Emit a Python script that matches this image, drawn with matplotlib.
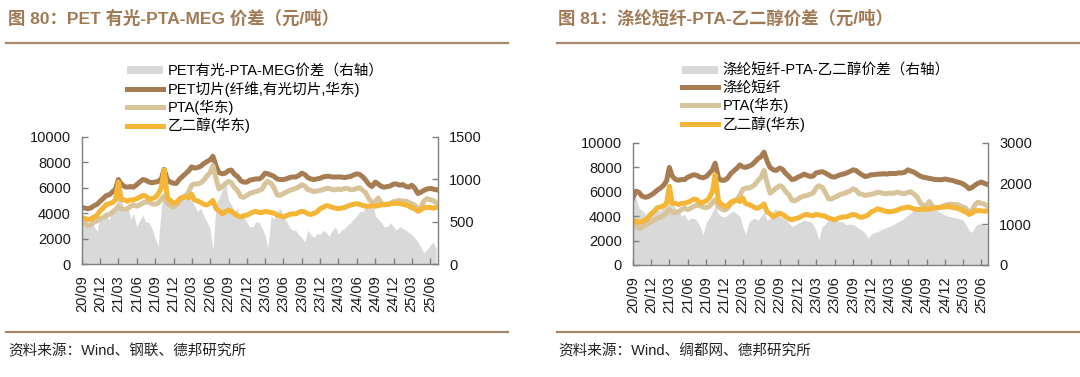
import matplotlib
matplotlib.use("Agg")
import matplotlib.pyplot as plt
import matplotlib.dates as mdates
from matplotlib.lines import Line2D
from matplotlib.patches import Patch
import pandas as pd
import numpy as np

plt.rcParams['font.family'] = ['Liberation Sans', 'Noto Sans CJK SC', 'DejaVu Sans']

# semi-monthly dates (1st and 15th) 2020-09-01 .. 2025-07-01
dates = pd.date_range('2020-09-01', '2025-07-01', freq='SMS')

pet_chip = [4450, 4400, 4350, 4420, 4600, 4700, 4950, 5150, 5400, 5450, 5700, 5900,
            6650, 6300, 6100, 6050, 6100, 6050, 6250, 6450, 6650, 6600, 6450, 6400,
            6450, 6500, 6700, 7450, 6600, 6450, 6350, 6350, 6700, 6900, 7150, 7350,
            7650, 7550, 7600, 7700, 7900, 8050, 8200, 8480, 7700, 7200, 7100, 7150,
            7350, 7400, 7050, 6900, 6550, 6450, 6450, 6600, 6650, 6700, 6700, 6850,
            7150, 7100, 7000, 6900, 6700, 6650, 6650, 6700, 6800, 6850, 6850, 6950,
            7150, 7050, 6800, 6700, 6650, 6700, 6750, 6850, 6900, 6900, 6850, 6850,
            6850, 6850, 6800, 6850, 6900, 7000, 7100, 7050, 6850, 6600, 6250, 6100,
            6450, 6300, 6100, 6050, 6100, 6150, 6300, 6300, 6200, 6250, 6100, 6050,
            6200, 6000, 5550, 5650, 5800, 5900, 5950, 5900, 5850]

pta = [3350, 3200, 3000, 3100, 3300, 3400, 3550, 3650, 3850, 3900, 4100, 4300,
       4550, 4350, 4300, 4350, 4550, 4650, 4550, 4650, 4800, 4900, 4850, 4750,
       4700, 4800, 5100, 5350, 4750, 4600, 4500, 4650, 5000, 5200, 5400, 5700,
       6200, 6300, 6300, 6400, 6600, 6900, 7200, 7750, 6700, 5900, 6100, 6300,
       6500, 6400, 6000, 5800, 5300, 5250, 5400, 5550, 5650, 5700, 5800, 5900,
       6300, 6500, 6350, 6000, 5450, 5400, 5550, 5650, 5800, 5850, 5950, 6050,
       6250, 6150, 5850, 5800, 5700, 5750, 5800, 5850, 5950, 5950, 5850, 5850,
       5900, 5850, 5950, 5950, 5850, 5850, 5950, 6000, 5800, 5600, 5100, 4850,
       4900, 5200, 4800, 4650, 4700, 4750, 4900, 4950, 5000, 4950, 4950, 4850,
       4750, 4650, 4300, 4450, 4950, 5150, 5050, 5000, 4850]

meg = [3650, 3600, 3500, 3550, 3700, 3850, 4200, 4400, 4700, 4750, 4850, 5050,
       6450, 5050, 5050, 4950, 5050, 5050, 5150, 5250, 5400, 5350, 5100, 5150,
       5250, 5500, 6000, 7400, 5200, 5000, 4800, 4850, 5150, 5250, 5300, 5200,
       5500, 5050, 4950, 4850, 4700, 4650, 4800, 5000, 4350, 4200, 3950, 4100,
       4250, 4150, 3950, 3800, 3700, 3800, 3850, 3950, 4100, 4150, 4050, 4050,
       4150, 4100, 4050, 4000, 3850, 3800, 3700, 3800, 3900, 3950, 3950, 4050,
       4150, 4100, 3950, 3900, 4000, 4100, 4350, 4450, 4600, 4550, 4450, 4400,
       4350, 4400, 4450, 4550, 4650, 4700, 4750, 4700, 4600, 4550, 4550, 4600,
       4550, 4600, 4650, 4700, 4700, 4750, 4750, 4800, 4750, 4700, 4650, 4550,
       4450, 4350, 4150, 4250, 4450, 4450, 4450, 4400, 4450]

pet_spread = [560, 470, 420, 500, 440, 390, 560, 510, 580, 520, 670, 620,
              900, 780, 620, 690, 530, 600, 440, 510, 580, 500, 490, 420,
              300, 210, 660, 930, 660, 710, 730, 660, 800, 750, 840, 770,
              750, 690, 620, 660, 570, 500, 420, 160, 720, 770, 880, 980,
              750, 700, 620, 660, 530, 570, 490, 440, 440, 500, 490, 420,
              350, 190, 570, 530, 620, 660, 570, 510, 440, 400, 400, 350,
              310, 260, 400, 350, 310, 360, 350, 400, 370, 330, 400, 440,
              350, 400, 420, 460, 490, 530, 570, 620, 620, 680, 700, 770,
              570, 530, 490, 440, 440, 490, 440, 400, 440, 420, 400, 370,
              350, 310, 260, 200, 130, 170, 220, 260, 180]

psf = [5500, 6050, 5950, 5650, 5550, 5600, 5750, 5900, 6150, 6300, 6550, 6900,
       8000, 7300, 7000, 6950, 7000, 7000, 7200, 7300, 7400, 7350, 7200, 7150,
       7250, 7500, 7800, 8350, 7100, 6950, 6950, 7100, 7500, 7700, 7950, 8200,
       8050, 8000, 8100, 8200, 8450, 8700, 8900, 9250, 8500, 8000, 7800, 7750,
       7950, 7850, 7500, 7300, 7000, 7050, 7200, 7300, 7450, 7350, 7250, 7300,
       7550, 7600, 7650, 7550, 7400, 7250, 7200, 7300, 7400, 7450, 7550, 7650,
       7800, 7750, 7550, 7400, 7250, 7300, 7400, 7400, 7450, 7450, 7480, 7450,
       7500, 7500, 7500, 7550, 7550, 7600, 7800, 7700, 7600, 7450, 7280, 7200,
       7150, 7100, 7050, 7000, 7000, 6980, 7050, 7000, 6950, 6900, 6800, 6750,
       6650, 6500, 6250, 6350, 6550, 6700, 6800, 6700, 6600]

psf_spread = [1600, 1650, 1400, 1350, 1250, 1300, 1300, 1320, 1360, 1330, 1480, 1450,
              1600, 1500, 1400, 1350, 1200, 1250, 1100, 1150, 1150, 1100, 950, 750,
              1050, 1150, 1300, 1450, 1250, 1200, 1180, 1220, 1300, 1320, 1250, 1200,
              950, 750, 1050, 1120, 1150, 1100, 1200, 1300, 1100, 1150, 1350, 1380,
              1200, 1150, 1100, 1050, 950, 980, 1030, 1060, 1110, 1080, 1070, 1000,
              850, 620, 950, 1000, 1100, 1120, 1100, 1080, 1070, 1040, 990, 1010,
              990, 950, 900, 860, 780, 660, 760, 800, 820, 860, 900, 920,
              950, 980, 1030, 1070, 1110, 1160, 1230, 1280, 1360, 1400, 1440, 1420,
              1440, 1410, 1400, 1350, 1310, 1270, 1230, 1200, 1190, 1170, 1150, 1130,
              1110, 1000, 860, 800, 950, 1000, 1030, 980, 950]

for s in (pet_chip, pta, meg, pet_spread, psf, psf_spread):
    assert len(s) == len(dates), len(s)

C_BROWN = '#A67C52'
C_TAN = '#D8C49B'
C_ORANGE = '#F5B536'
C_GRAY = '#D9D9D9'
C_TITLE = '#A07A55'
C_RULE = '#A8866A'
AX_COLOR = '#808080'
LW = 3.6

W, H = 1080, 377
fig = plt.figure(figsize=(W / 100, H / 100), dpi=100)


def px_box(x0, x1, ytop, ybot):
    return [x0 / W, 1 - ybot / H, (x1 - x0) / W, (ybot - ytop) / H]


def panel(box, main_series, main_label, spread, spread_label, rmax, rstep, xend,
          leg_x, title, source, rule_x0, rule_x1, text_x):
    ax = fig.add_axes(box)
    ax2 = ax.twinx()
    ax2.fill_between(dates, 0, spread, color=C_GRAY, lw=0)
    ax.plot(dates, main_series, color=C_BROWN, lw=LW, solid_joinstyle='round')
    ax.plot(dates, pta, color=C_TAN, lw=LW, solid_joinstyle='round')
    ax.plot(dates, meg, color=C_ORANGE, lw=LW, solid_joinstyle='round')
    ax.set_zorder(ax2.get_zorder() + 1)
    ax.patch.set_visible(False)

    ax.set_ylim(0, 10000)
    ax.set_yticks(np.arange(0, 10001, 2000))
    ax2.set_ylim(0, rmax)
    ax2.set_yticks(np.arange(0, rmax + 1, rstep))
    ax.set_xlim(pd.Timestamp('2020-09-01'), pd.Timestamp(xend))
    ticks = pd.date_range('2020-09-01', '2025-06-01', freq='3MS')
    ax.set_xticks(ticks)
    ax.xaxis.set_major_formatter(mdates.DateFormatter('%y/%m'))
    for lab in ax.get_xticklabels():
        lab.set_rotation(90)
    for a in (ax, ax2):
        a.spines['top'].set_visible(False)
        for sp in a.spines.values():
            sp.set_color(AX_COLOR)
            sp.set_linewidth(1.0)
        a.tick_params(direction='in', length=4, width=1, color=AX_COLOR,
                      labelsize=10.5, labelcolor='#1a1a1a')
    ax.tick_params(axis='y', pad=8)
    ax2.tick_params(axis='y', pad=8)
    ax.tick_params(axis='x', pad=8)
    ax.spines['right'].set_visible(False)
    ax2.spines['left'].set_visible(False)
    ax2.spines['bottom'].set_visible(False)

    handles = [Patch(facecolor=C_GRAY, edgecolor='none'),
               Line2D([], [], color=C_BROWN, lw=LW),
               Line2D([], [], color=C_TAN, lw=LW),
               Line2D([], [], color=C_ORANGE, lw=LW)]
    labels = [spread_label, main_label, 'PTA(华东)', '乙二醇(华东)']
    fig.legend(handles, labels, loc='upper left',
               bbox_to_anchor=(leg_x / W, 1 - 64 / H), bbox_transform=fig.transFigure,
               frameon=False, fontsize=10.5, handlelength=2.5, handleheight=0.5,
               handletextpad=0.3, labelspacing=0.2, borderpad=0, borderaxespad=0)

    fig.text(text_x / W, 1 - 18 / H, title, fontsize=12.5, fontweight='bold',
             color=C_TITLE, ha='left', va='center')
    fig.add_artist(Line2D([rule_x0 / W, rule_x1 / W], [1 - 43 / H] * 2,
                          color=C_RULE, lw=1.6, transform=fig.transFigure))
    fig.add_artist(Line2D([rule_x0 / W, rule_x1 / W], [1 - 332 / H] * 2,
                          color=C_RULE, lw=1.6, transform=fig.transFigure))
    fig.text(text_x / W, 1 - 351 / H, source, fontsize=10.5, color='#222222',
             ha='left', va='center')
    return ax, ax2


panel(px_box(82, 438, 137, 264), pet_chip, 'PET切片(纤维,有光切片,华东)',
      pet_spread, 'PET有光-PTA-MEG价差（右轴）', 1500, 500, '2025-07-10', 127,
      '图 80：PET 有光-PTA-MEG 价差（元/吨）', '资料来源：Wind、钢联、德邦研究所',
      6, 508, 8)

panel(px_box(633, 988, 143, 265), psf, '涤纶短纤',
      psf_spread, '涤纶短纤-PTA-乙二醇价差（右轴）', 3000, 1000, '2025-07-04', 682,
      '图 81：涤纶短纤-PTA-乙二醇价差（元/吨）', '资料来源：Wind、绸都网、德邦研究所',
      557, 1080, 558)

fig.savefig('out.png', dpi=100)
